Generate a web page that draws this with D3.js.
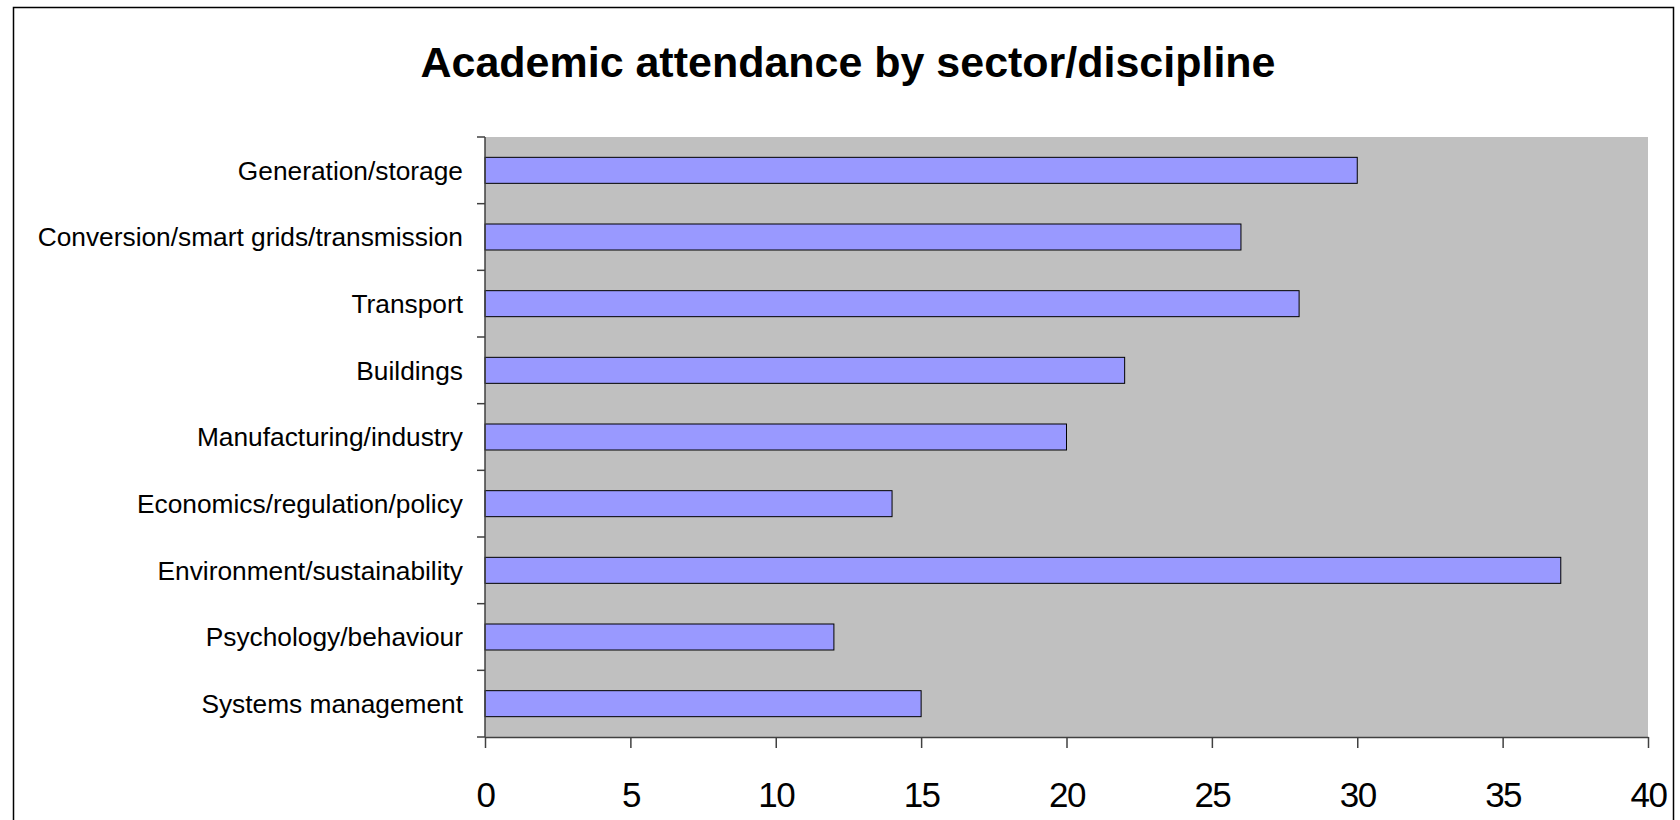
<!DOCTYPE html>
<html>
<head>
<meta charset="utf-8">
<script src="https://cdn.jsdelivr.net/npm/d3@7"></script>
<style>
  body { margin: 0; background: #fff; }
  svg { display: block; font-family: "Liberation Sans", Arial, sans-serif; }
</style>
</head>
<body>
<svg id="chart" width="1680" height="820"></svg>
<script>
// chart data
const categories = [
    "Generation/storage",
    "Conversion/smart grids/transmission",
    "Transport",
    "Buildings",
    "Manufacturing/industry",
    "Economics/regulation/policy",
    "Environment/sustainability",
    "Psychology/behaviour",
    "Systems management"
];
const attendance = [30, 26, 28, 22, 20, 14, 37, 12, 15];
const xTicks = [0, 5, 10, 15, 20, 25, 30, 35, 40];
const title = "Academic attendance by sector/discipline";

const svg = d3.select("#chart");

// outer frame
svg.append("rect")
    .attr("x", 13.5).attr("y", 7.5)
    .attr("width", 1660).attr("height", 830)
    .attr("fill", "#fff").attr("stroke", "#000").attr("stroke-width", 1.5);

// title
svg.append("text")
    .attr("x", 848).attr("y", 77)
    .attr("text-anchor", "middle")
    .attr("font-size", 42).attr("font-weight", "bold")
    .attr("textLength", 855).attr("lengthAdjust", "spacingAndGlyphs")
    .text(title);

const plot = { left: 485, top: 137, right: 1648, bottom: 737 };

const x = d3.scaleLinear().domain([0, 40]).range([plot.left, plot.right]);
const y = d3.scaleBand().domain(categories).range([plot.top, plot.bottom]).paddingInner(0.61).paddingOuter(0.305);

// plot area
svg.append("rect")
    .attr("x", plot.left).attr("y", plot.top)
    .attr("width", plot.right - plot.left).attr("height", plot.bottom - plot.top)
    .attr("fill", "#c0c0c0");

// bars
svg.append("g").selectAll("rect")
    .data(categories)
    .join("rect")
    .attr("x", x(0))
    .attr("y", d => y(d))
    .attr("width", (d, i) => x(attendance[i]) - x(0))
    .attr("height", y.bandwidth())
    .attr("fill", "#9999ff")
    .attr("stroke", "#000").attr("stroke-width", 1);

// x axis
const xAxis = svg.append("g")
    .attr("transform", `translate(0,${plot.bottom})`)
    .call(d3.axisBottom(x).tickValues(xTicks).tickSize(11).tickPadding(34).tickSizeOuter(0));
xAxis.select(".domain").attr("stroke", "#404040").attr("stroke-width", 1.5);
xAxis.selectAll(".tick line").attr("stroke", "#404040").attr("stroke-width", 1.5);
xAxis.selectAll(".tick text")
    .attr("font-size", 35).attr("fill", "#000")
    .attr("font-family", "Liberation Sans, Arial, sans-serif")
    .attr("letter-spacing", -1.5);

// y axis: ticks at band boundaries
const step = y.step();
const boundaries = d3.range(categories.length + 1).map(i => plot.top + i * step);
svg.append("line")
    .attr("x1", plot.left).attr("x2", plot.left)
    .attr("y1", plot.top).attr("y2", plot.bottom)
    .attr("stroke", "#404040").attr("stroke-width", 1.5);
svg.append("g").selectAll("line")
    .data(boundaries)
    .join("line")
    .attr("x1", plot.left - 8).attr("x2", plot.left)
    .attr("y1", d => d).attr("y2", d => d)
    .attr("stroke", "#404040").attr("stroke-width", 1.5);

svg.append("g").selectAll("text")
    .data(categories)
    .join("text")
    .attr("x", plot.left - 22)
    .attr("y", d => y(d) + y.bandwidth() / 2)
    .attr("dy", "0.35em")
    .attr("text-anchor", "end")
    .attr("font-size", 26.3)
    .text(d => d);
</script>
</body>
</html>
